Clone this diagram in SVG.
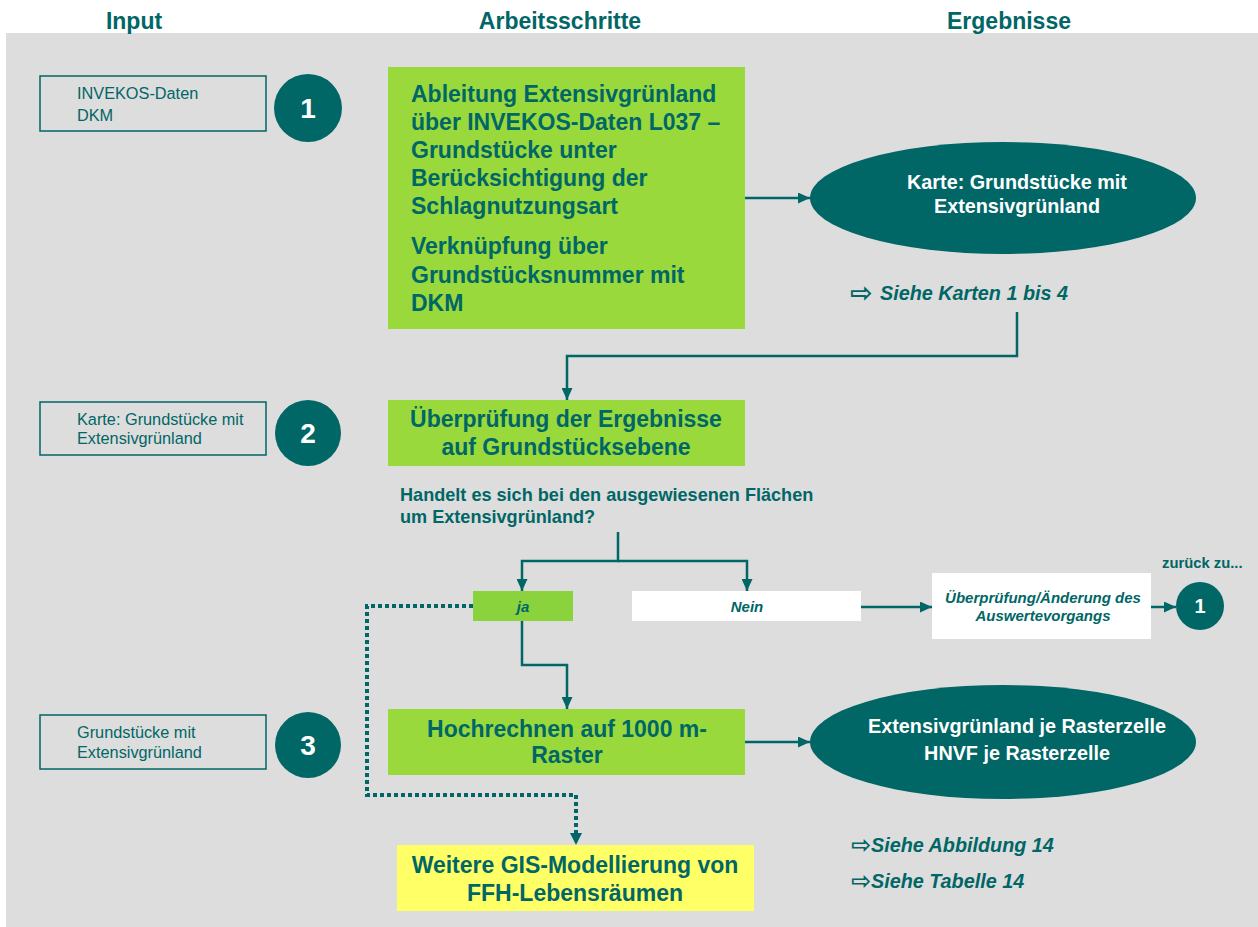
<svg xmlns="http://www.w3.org/2000/svg" width="1258" height="927" viewBox="0 0 1258 927">
<style>
text{font-family:"Liberation Sans",Arial,sans-serif;fill:#006666}
.hdr{font-size:23px;font-weight:bold;text-anchor:middle}
.inbox{fill:none;stroke:#006666;stroke-width:1.5}
.intext{font-size:16.3px}
.circ{fill:#006666}
.num{fill:#fff;font-weight:bold;text-anchor:middle}
.step{fill:#99D93C}
.steptxt{font-size:23px;font-weight:bold}
.ell{fill:#006666}
.elltxt{fill:#fff;font-size:19.8px;font-weight:bold;text-anchor:middle}
.ref{font-size:19.8px;font-weight:bold;font-style:italic}
.sym{font-family:"DejaVu Sans",sans-serif;font-style:normal;font-weight:bold}
.con{fill:none;stroke:#006666;stroke-width:2.5}
.dot{fill:none;stroke:#006666;stroke-width:4;stroke-dasharray:4 3}
</style>
<defs>
<marker id="ah" markerUnits="userSpaceOnUse" markerWidth="12" markerHeight="11" refX="12" refY="5.5" orient="auto">
<path d="M0,0 L12,5.5 L0,11 z" fill="#006666"/>
</marker>
</defs>
<rect x="0" y="0" width="1258" height="927" fill="#ffffff"/>
<rect x="6" y="33" width="1252" height="894" fill="#DDDDDD"/>
<g id="headers">
<text class="hdr" x="134" y="29">Input</text>
<text class="hdr" x="560" y="29">Arbeitsschritte</text>
<text class="hdr" x="1009" y="29">Ergebnisse</text>
</g>
<g id="connectors">
<path class="con" d="M745,198 H810" marker-end="url(#ah)"/>
<path class="con" d="M1017,312 V356 H567 V400" marker-end="url(#ah)"/>
<path class="con" d="M618,532 V561 H522 V591" marker-end="url(#ah)"/>
<path class="con" d="M618,561 H747 V591" marker-end="url(#ah)"/>
<path class="con" d="M861,607 H932" marker-end="url(#ah)"/>
<path class="con" d="M1151,607 H1176" marker-end="url(#ah)"/>
<path class="con" d="M522,621 V665 H567 V709" marker-end="url(#ah)"/>
<path class="con" d="M745,742 H810" marker-end="url(#ah)"/>
<path class="dot" d="M473,606 H367 V795 H576 V834"/>
<path d="M570,833 L582,833 L576,845 z" fill="#006666"/>
</g>
<g id="input1">
<rect class="inbox" x="40" y="76" width="226" height="55"/>
<text class="intext" x="77" y="99">INVEKOS-Daten</text>
<text class="intext" x="77" y="121">DKM</text>
</g>
<g id="num1">
<circle class="circ" cx="308" cy="108" r="34"/>
<text class="num" x="308" y="118" font-size="28">1</text>
</g>
<g id="step1">
<rect class="step" x="388" y="67" width="357" height="262"/>
<text class="steptxt" x="411" y="102">Ableitung Extensivgrünland</text>
<text class="steptxt" x="411" y="130">über INVEKOS-Daten L037 –</text>
<text class="steptxt" x="411" y="158">Grundstücke unter</text>
<text class="steptxt" x="411" y="186">Berücksichtigung der</text>
<text class="steptxt" x="411" y="214">Schlagnutzungsart</text>
<text class="steptxt" x="411" y="254">Verknüpfung über</text>
<text class="steptxt" x="411" y="283">Grundstücksnummer mit</text>
<text class="steptxt" x="411" y="311">DKM</text>
</g>
<g id="result1">
<ellipse class="ell" cx="1003" cy="198" rx="193" ry="56"/>
<text class="elltxt" x="1017" y="189">Karte: Grundstücke mit</text>
<text class="elltxt" x="1017" y="213">Extensivgrünland</text>
</g>
<g id="ref1">
<text class="ref" x="850" y="302"><tspan class="sym" font-size="27">⇨</tspan><tspan x="880" y="300">Siehe Karten 1 bis 4</tspan></text>
</g>
<g id="input2">
<rect class="inbox" x="40" y="402" width="226" height="53"/>
<text class="intext" x="77" y="425">Karte: Grundstücke mit</text>
<text class="intext" x="77" y="444">Extensivgrünland</text>
</g>
<g id="num2">
<circle class="circ" cx="308" cy="433" r="33"/>
<text class="num" x="308" y="443" font-size="28">2</text>
</g>
<g id="step2">
<rect class="step" x="388" y="400" width="357" height="66"/>
<text class="steptxt" x="566" y="427" text-anchor="middle">Überprüfung der Ergebnisse</text>
<text class="steptxt" x="566" y="455" text-anchor="middle">auf Grundstücksebene</text>
</g>
<g id="question">
<text x="400" y="501" font-size="18.1" font-weight="bold">Handelt es sich bei den ausgewiesenen Flächen</text>
<text x="400" y="523" font-size="18.1" font-weight="bold">um Extensivgrünland?</text>
</g>
<g id="ja">
<rect x="473" y="591" width="100" height="30" fill="#8AD33C"/>
<text x="523" y="612" font-size="15" font-weight="bold" font-style="italic" text-anchor="middle">ja</text>
</g>
<g id="nein">
<rect x="632" y="591" width="229" height="30" fill="#ffffff"/>
<text x="747" y="612" font-size="15" font-weight="bold" font-style="italic" text-anchor="middle">Nein</text>
</g>
<g id="review">
<rect x="932" y="573" width="219" height="66" fill="#ffffff"/>
<text x="1043" y="603" font-size="15" font-weight="bold" font-style="italic" text-anchor="middle">Überprüfung/Änderung des</text>
<text x="1043" y="621" font-size="15" font-weight="bold" font-style="italic" text-anchor="middle">Auswertevorgangs</text>
</g>
<g id="back">
<text x="1162" y="568" font-size="14.8" font-weight="bold">zurück zu...</text>
<circle class="circ" cx="1200" cy="606" r="24"/>
<text class="num" x="1200" y="613" font-size="20">1</text>
</g>
<g id="input3">
<rect class="inbox" x="40" y="715" width="226" height="54"/>
<text class="intext" x="77" y="738">Grundstücke mit</text>
<text class="intext" x="77" y="758">Extensivgrünland</text>
</g>
<g id="num3">
<circle class="circ" cx="308" cy="745" r="33"/>
<text class="num" x="308" y="755" font-size="28">3</text>
</g>
<g id="step3">
<rect class="step" x="388" y="709" width="357" height="66"/>
<text class="steptxt" x="567" y="737" text-anchor="middle">Hochrechnen auf 1000 m-</text>
<text class="steptxt" x="567" y="763" text-anchor="middle">Raster</text>
</g>
<g id="result2">
<ellipse class="ell" cx="1003" cy="742" rx="193" ry="57"/>
<text class="elltxt" x="1017" y="733">Extensivgrünland je Rasterzelle</text>
<text class="elltxt" x="1017" y="760">HNVF je Rasterzelle</text>
</g>
<g id="ref2">
<text class="ref" x="851" y="853"><tspan class="sym" font-size="24">⇨</tspan><tspan x="871" y="852">Siehe Abbildung 14</tspan></text>
<text class="ref" x="851" y="889"><tspan class="sym" font-size="24">⇨</tspan><tspan x="871" y="888">Siehe Tabelle 14</tspan></text>
</g>
<g id="further">
<rect x="397" y="845" width="357" height="66" fill="#FFFF66"/>
<text class="steptxt" x="575" y="873" text-anchor="middle">Weitere GIS-Modellierung von</text>
<text class="steptxt" x="575" y="901" text-anchor="middle">FFH-Lebensräumen</text>
</g>
</svg>
